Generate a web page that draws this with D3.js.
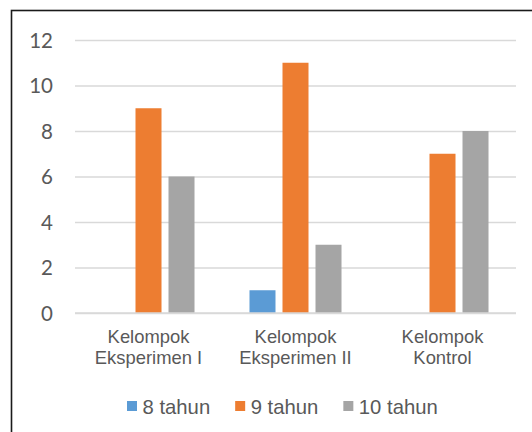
<!DOCTYPE html>
<html>
<head>
<meta charset="utf-8">
<script src="https://cdn.jsdelivr.net/npm/d3@7"></script>
<style>
  html, body { margin: 0; padding: 0; background: #fff; }
  svg { display: block; }
</style>
</head>
<body>
<svg id="chart" width="532" height="432"></svg>
<script>
const categories = ["Kelompok Eksperimen I", "Kelompok Eksperimen II", "Kelompok Kontrol"];
const categoryLines = [["Kelompok", "Eksperimen I"], ["Kelompok", "Eksperimen II"], ["Kelompok", "Kontrol"]];
const seriesNames = ["8 tahun", "9 tahun", "10 tahun"];
const values8 = [0, 1, 0];
const values9 = [9, 11, 7];
const values10 = [6, 3, 8];
const yTicks = [0, 2, 4, 6, 8, 10, 12];
const colors = ["#5B9BD5", "#ED7D31", "#A5A5A5"];

const seriesValues = [values8, values9, values10];
const data = categories.map((c, i) => ({
  cat: c,
  vals: seriesNames.map((s, j) => ({ s, v: seriesValues[j][i], color: colors[j] }))
}));

const svg = d3.select("#chart");

// outer border
svg.append("rect")
  .attr("x", 11.5).attr("y", 10.5)
  .attr("width", 530).attr("height", 430)
  .attr("fill", "#fff").attr("stroke", "#1a1a1a").attr("stroke-width", 1.6);

const plotL = 75, plotR = 516;
const y = d3.scaleLinear().domain([0, 12]).range([313, 40]);
const x0 = d3.scaleBand().domain(categories).range([plotL, plotR]).paddingInner(0).paddingOuter(0);
const x1 = d3.scaleBand().domain(seriesNames).range([0, x0.bandwidth()])
  .paddingInner(7 / 33).paddingOuter(0.833);

// gridlines
const grid = svg.append("g").attr("transform", `translate(${plotL},0)`)
  .call(d3.axisLeft(y).tickValues(yTicks).tickSize(-(plotR - plotL)).tickFormat(""));
grid.select(".domain").remove();
grid.selectAll(".tick line").attr("stroke", "#d9d9d9").attr("stroke-width", 1.3);

// y tick labels
const yAx = svg.append("g").attr("transform", "translate(53,0)")
  .call(d3.axisLeft(y).tickValues(yTicks).tickSize(0).tickPadding(0));
yAx.select(".domain").remove();
yAx.selectAll(".tick text")
  .attr("fill", "#595959")
  .attr("font-family", "Lato, 'Open Sans', sans-serif")
  .attr("font-size", 20.5)
  .attr("text-anchor", "end")
  .attr("dy", "0.36em");

// bars
const groups = svg.append("g").selectAll("g").data(data).join("g")
  .attr("transform", d => `translate(${x0(d.cat)},0)`);
groups.selectAll("rect").data(d => d.vals).join("rect")
  .attr("x", d => x1(d.s))
  .attr("width", x1.bandwidth())
  .attr("y", d => y(d.v))
  .attr("height", d => y(0) - y(d.v))
  .attr("fill", d => d.color);

// baseline axis
svg.append("line")
  .attr("x1", plotL).attr("x2", plotR)
  .attr("y1", y(0)).attr("y2", y(0))
  .attr("stroke", "#d9d9d9").attr("stroke-width", 1.5);

// category labels
const catG = svg.append("g");
categories.forEach((c, i) => {
  const t = catG.append("text")
    .attr("x", x0(c) + x0.bandwidth() / 2)
    .attr("y", 343)
    .attr("text-anchor", "middle")
    .attr("fill", "#595959")
    .attr("font-family", "'Liberation Sans', Arial, sans-serif")
    .attr("font-size", 18.4);
  categoryLines[i].forEach((ln, k) => {
    t.append("tspan").attr("x", x0(c) + x0.bandwidth() / 2).attr("dy", k === 0 ? 0 : 21.3).text(ln);
  });
});

// legend
const leg = svg.append("g");
let cx = 0;
seriesNames.forEach((s, j) => {
  const g = leg.append("g");
  g.append("rect").attr("x", cx).attr("y", 401).attr("width", 10).attr("height", 10).attr("fill", colors[j]);
  const t = g.append("text").attr("x", cx + 15.5).attr("y", 413.5)
    .attr("fill", "#595959")
    .attr("font-family", "'Liberation Sans', Arial, sans-serif")
    .attr("font-size", 20.3).text(s);
  const w = t.node().getComputedTextLength();
  cx += 15.5 + w + 25;
});
leg.attr("transform", `translate(${127},0)`);
</script>
</body>
</html>
